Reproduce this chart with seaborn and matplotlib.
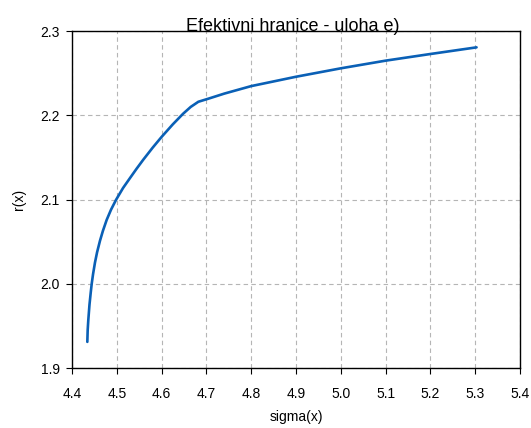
import matplotlib
matplotlib.use("Agg")
import matplotlib.pyplot as plt
import seaborn as sns
import pandas as pd

# Efficient frontier: portfolio risk sigma(x) vs. expected return r(x)
sigma = [4.4342, 4.4350, 4.4364, 4.4390, 4.4417, 4.4440, 4.4470, 4.4513,
         4.4560, 4.4625, 4.4690, 4.4774, 4.4870, 4.4982, 4.5140, 4.5295,
         4.5440, 4.5590, 4.5800, 4.6000, 4.6250, 4.6480, 4.6650, 4.6820,
         4.7040, 4.7400, 4.8000, 4.9000, 5.0000, 5.1000, 5.2000, 5.3030]
ret = [1.9310, 1.9450, 1.9570, 1.9750, 1.9890, 2.0000, 2.0114, 2.0252,
       2.0374, 2.0511, 2.0628, 2.0758, 2.0878, 2.0995, 2.1137, 2.1255,
       2.1364, 2.1472, 2.1615, 2.1743, 2.1892, 2.2018, 2.2099, 2.2160,
       2.2196, 2.2257, 2.2346, 2.2457, 2.2557, 2.2648, 2.2727, 2.2806]

x_ticks = [4.4, 4.5, 4.6, 4.7, 4.8, 4.9, 5.0, 5.1, 5.2, 5.3, 5.4]
y_ticks = [1.9, 2.0, 2.1, 2.2, 2.3]

title = "Efektivni hranice - uloha e)"
x_label = "sigma(x)"
y_label = "r(x)"

df = pd.DataFrame({"sigma": sigma, "r": ret})

sns.set_theme(style="white")
plt.rcParams["font.family"] = ["Liberation Sans", "DejaVu Sans"]

fig = plt.figure(figsize=(5.31, 4.28), dpi=100)
ax = fig.add_axes([72 / 531, 60 / 428, 448 / 531, 337 / 428])

sns.lineplot(data=df, x="sigma", y="r", sort=False, ax=ax,
             color="#0a60b6", linewidth=1.9, estimator=None)

ax.set_xlim(4.4, 5.4)
ax.set_ylim(1.9, 2.3)
ax.set_xticks(x_ticks)
ax.set_yticks(y_ticks)
ax.set_xticklabels([f"{v:.1f}" for v in x_ticks])
ax.set_yticklabels([f"{v:.1f}" for v in y_ticks])

ax.grid(True, linestyle=(0, (4, 3)), color="#b5b5b5", linewidth=0.8)
ax.set_axisbelow(True)

for side in ["left", "bottom", "top", "right"]:
    ax.spines[side].set_visible(True)
    ax.spines[side].set_color("black")
    ax.spines[side].set_linewidth(1.0)

ax.tick_params(axis="both", which="major", direction="out", length=4,
               width=0.8, color="black", labelsize=10, labelcolor="black",
               bottom=True, left=True, top=False, right=False)
ax.tick_params(axis="x", pad=10)
ax.tick_params(axis="y", pad=5)

ax.set_title(title, fontsize=13, pad=0, x=0.492, color="black")
ax.set_xlabel(x_label, fontsize=10, labelpad=6, color="black")
ax.set_ylabel(y_label, fontsize=10, labelpad=10, color="black")

fig.savefig("out.png", dpi=100)
